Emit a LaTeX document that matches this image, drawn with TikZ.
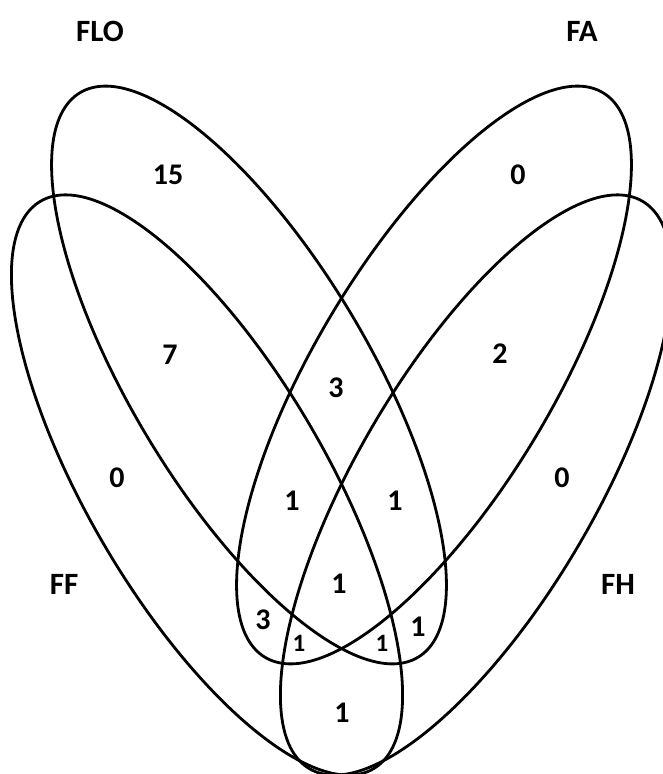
\documentclass[tikz,border=0pt]{standalone}
\usepackage{fontspec}
\setmainfont{Carlito}
\begin{document}
\begin{tikzpicture}[x=1pt,y=1pt,
  set/.style={line width=2.8pt},
  lab/.style={font=\fontsize{31}{36}\selectfont\bfseries, inner sep=0pt},
  num/.style={font=\fontsize{30}{36}\selectfont\bfseries, inner sep=0pt},
  small/.style={font=\fontsize{25}{30}\selectfont\bfseries, inner sep=0pt}]
\useasboundingbox (0,0) rectangle (663,774);
\clip (0,0) rectangle (663,774);
% ellipses
\draw[set] (249,399) ellipse [x radius=329, y radius=119, rotate=-59.1];
\draw[set] (434,399) ellipse [x radius=329, y radius=119, rotate=59.1];
\draw[set] (207,289) ellipse [x radius=329, y radius=119, rotate=-59.6];
\draw[set] (476,289) ellipse [x radius=329, y radius=119, rotate=59.6];
% set labels
\node[lab] (lFLO) at (100,743) {FLO};
\node[lab] (lFA) at (582,743) {FA};
\node[lab] (lFF) at (64,190) {FF};
\node[lab] (lFH) at (618,190) {FH};
% counts
\node[num] (n1) at (168,599) {15};
\node[num] (n2) at (518,599) {0};
\node[num] (n3) at (170,419) {7};
\node[num] (n4) at (117,296) {0};
\node[num] (n5) at (500,420) {2};
\node[num] (n6) at (562,296) {0};
\node[num] (n7) at (336,386) {3};
\node[num] (n8) at (292,273) {1};
\node[num] (n9) at (395,273) {1};
\node[num] (n10) at (339,190) {1};
\node[num] (n11) at (263,154) {3};
\node[small] (n12) at (299,131) {1};
\node[small] (n13) at (382,131) {1};
\node[num] (n14) at (418,147) {1};
\node[num] (n15) at (342,61) {1};
\end{tikzpicture}
\end{document}
